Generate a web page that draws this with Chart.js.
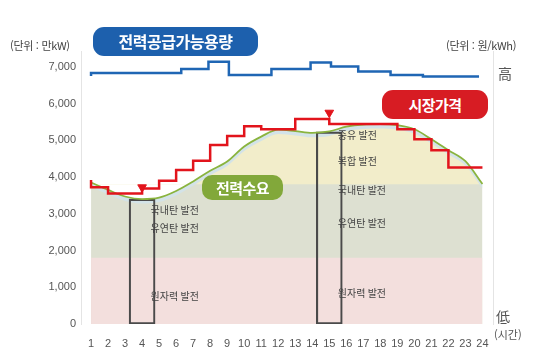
<!DOCTYPE html>
<html lang="ko">
<head>
    <meta charset="UTF-8">
    <title>전력수요와 시장가격</title>
    <script src="https://cdn.jsdelivr.net/npm/chart.js"></script>
    <style>
        body {
            margin: 0;
            background: #fff;
            font-family: 'Noto Sans CJK KR', 'Noto Sans', sans-serif;
        }
        #wrap {
            position: relative;
            width: 540px;
            height: 347px;
        }
        .pill {
            position: absolute;
            color: #fff;
            font-weight: bold;
            text-align: center;
            border-radius: 11px;
            letter-spacing: -0.5px;
        }
        .blue { left: 93px; top: 27px; width: 165px; height: 29px; line-height: 29px; font-size: 16px; background: #1d60ad; }
        .red { left: 382px; top: 90px; width: 106px; height: 29px; line-height: 29px; font-size: 15px; background: #d71c23; }
        .green { left: 202px; top: 175px; width: 81px; height: 25px; line-height: 25px; font-size: 15px; background: #82a83a; border-radius: 10px; }
        .note {
            position: absolute;
            color: #444;
            font-size: 11px;
            white-space: nowrap;
        }
    </style>
</head>
<body>
<div id="wrap">
    <canvas id="chart" width="540" height="347"></canvas>
    <div class="pill blue">전력공급가능용량</div>
    <div class="pill red">시장가격</div>
    <div class="pill green">전력수요</div>
    <div class="note" style="left:10px; top:37px; letter-spacing:-0.3px;">(단위 : 만kW)</div>
    <div class="note" style="left:446px; top:37px; letter-spacing:-0.3px;">(단위 : 원/kWh)</div>
    <div class="note" style="left:498px; top:63px; font-size:14px; color:#555;">高</div>
    <div class="note" style="left:496px; top:306px; font-size:14px; color:#555;">低</div>
    <div class="note" style="left:494px; top:326px; color:#555;">(시간)</div>
</div>

<script>
    // 시간 (1~24시)
    const hours = [1, 2, 3, 4, 5, 6, 7, 8, 9, 10, 11, 12, 13, 14, 15, 16, 17, 18, 19, 20, 21, 22, 23, 24];
    const yTicks = [0, 1000, 2000, 3000, 4000, 5000, 6000, 7000];

    // 전력수요 (만kW)
    const demand = [3850, 3650, 3470, 3400, 3440, 3620, 3880, 4170, 4420, 4830, 5100, 5290,
                    5250, 5200, 5240, 5370, 5430, 5440, 5410, 5300, 5030, 4730, 4430, 3810];

    // 시장가격 (상대 높이, 계단형)
    const price = [3920, 3720, 3550, 3550, 3690, 3900, 4190, 4440, 4870, 5120, 5380, 5300,
                   5300, 5580, 5580, 5440, 5440, 5440, 5440, 5300, 5030, 4730, 4260, 4260];

    // 전력공급가능용량 (계단 바뀌는 시각)
    const capHours = [1, 6.3, 7.9, 9.1, 11.6, 13.9, 15.1, 16.7, 18.6, 20.5, 22.3, 23.8];
    const capacity = [6750, 6830, 6940, 7140, 6780, 6940, 7120, 7010, 6870, 6780, 6735, 6735];

    // 발전원 경계
    const baseHours = [1, 24];
    const nuclearTop = [1800, 1800];   // 원자력
    const coalTop = 3800;              // 국내탄/유연탄 위로는 중유/복합

    // 최소/최대 수요 시각 표시
    const boxHours = [4, 15];
    const boxTop = [3400, 5230];
    const markPrice = [3720, 5750];

    const yMax = 7430;
    const bandGap = 120;

    const xy = (xs, ys) => xs.map((x, i) => ({ x: x, y: ys[i] }));

    const notes = [
        { h: 4.5, v: 3110, t: '국내탄 발전' },
        { h: 4.5, v: 2620, t: '유연탄 발전' },
        { h: 4.5, v: 770, t: '원자력 발전' },
        { h: 15.5, v: 5150, t: '중유 발전' },
        { h: 15.5, v: 4440, t: '복합 발전' },
        { h: 15.5, v: 3650, t: '국내탄 발전' },
        { h: 15.5, v: 2730, t: '유연탄 발전' },
        { h: 15.5, v: 825, t: '원자력 발전' }
    ];

    const notePlugin = {
        id: 'notes',
        afterDatasetsDraw(chart) {
            const ctx = chart.ctx;
            const x = chart.scales.x, y = chart.scales.y;
            ctx.save();
            ctx.font = "10px 'Noto Sans CJK KR', sans-serif";
            ctx.fillStyle = '#444';
            ctx.textAlign = 'left';
            ctx.textBaseline = 'middle';
            notes.forEach(n => ctx.fillText(n.t, x.getPixelForValue(n.h), y.getPixelForValue(n.v)));
            ctx.restore();
        }
    };

    new Chart(document.getElementById('chart'), {
        type: 'line',
        data: {
            datasets: [
                {   // 전력공급가능용량
                    data: xy(capHours, capacity),
                    borderColor: '#1f66b4',
                    borderWidth: 2.5,
                    stepped: 'after',
                    pointRadius: 0,
                    fill: false,
                    order: 4
                },
                {   // 시장가격
                    yAxisID: 'yPrice',
                    data: xy(hours, price),
                    borderColor: '#e2141c',
                    borderWidth: 2.5,
                    stepped: 'after',
                    pointRadius: 0,
                    fill: false,
                    order: 3
                },
                {   // 최소/최대 가격 표시
                    yAxisID: 'yPrice',
                    data: xy(boxHours, markPrice),
                    showLine: false,
                    pointStyle: 'triangle',
                    rotation: 180,
                    pointRadius: 5,
                    hoverRadius: 5,
                    backgroundColor: '#e2141c',
                    borderColor: '#e2141c',
                    order: 2
                },
                {   // 전력수요 선
                    data: xy(hours, demand),
                    borderColor: '#8ab43e',
                    borderWidth: 1.8,
                    cubicInterpolationMode: 'monotone',
                    pointRadius: 0,
                    fill: false,
                    order: 5
                },
                {   // 수요선 아래 하늘색 띠
                    data: xy(hours, demand.map(v => v - bandGap)),
                    borderWidth: 0,
                    cubicInterpolationMode: 'monotone',
                    pointRadius: 0,
                    fill: { target: 3 },
                    backgroundColor: '#d3e3e8',
                    order: 7
                },
                {   // 시각 박스
                    type: 'bar',
                    data: xy(boxHours, boxTop),
                    backgroundColor: 'rgba(0,0,0,0)',
                    borderColor: '#4a4a4a',
                    borderWidth: 1.5,
                    borderSkipped: false,
                    barThickness: 26,
                    order: 6
                },
                {   // 원자력
                    data: xy(baseHours, nuclearTop),
                    borderWidth: 0,
                    pointRadius: 0,
                    fill: 'origin',
                    backgroundColor: '#f3dfdd',
                    order: 8
                },
                {   // 중유/복합
                    data: xy(hours, demand),
                    borderWidth: 0,
                    cubicInterpolationMode: 'monotone',
                    pointRadius: 0,
                    fill: { target: { value: coalTop }, above: '#f2edca', below: 'rgba(0,0,0,0)' },
                    order: 9
                },
                {   // 국내탄/유연탄
                    data: xy(hours, demand),
                    borderWidth: 0,
                    cubicInterpolationMode: 'monotone',
                    pointRadius: 0,
                    fill: 'origin',
                    backgroundColor: '#dde0d1',
                    order: 10
                }
            ]
        },
        options: {
            responsive: false,
            animation: false,
            layout: { autoPadding: false, padding: { top: 51, right: 47, left: 0, bottom: 0 } },
            plugins: {
                legend: { display: false },
                tooltip: { enabled: false }
            },
            scales: {
                x: {
                    type: 'linear',
                    offset: false,
                    min: 0.41,
                    max: 24.62,
                    grid: { display: false, offset: false },
                    border: { display: false },
                    afterBuildTicks: a => { a.ticks = hours.map(v => ({ value: v })); },
                    ticks: { color: '#555', font: { size: 11 }, padding: 5, maxRotation: 0, autoSkip: false },
                    afterFit: s => { s.height = 23; s.paddingLeft = 0; s.paddingRight = 0; }
                },
                y: {
                    min: 0,
                    max: yMax,
                    grid: { display: false, drawTicks: false },
                    border: { color: '#e4e4e4' },
                    afterBuildTicks: a => { a.ticks = yTicks.map(v => ({ value: v })); },
                    ticks: { color: '#555', font: { size: 11 }, padding: 5, callback: v => v.toLocaleString('en-US') },
                    afterFit: s => { s.width = 81; s.paddingTop = 0; s.paddingBottom = 0; }
                },
                yPrice: {
                    position: 'right',
                    min: 0,
                    max: yMax,
                    grid: { display: false, drawTicks: false },
                    border: { color: '#e4e4e4' },
                    ticks: { display: false },
                    afterFit: s => { s.width = 0; }
                }
            }
        },
        plugins: [notePlugin]
    });
</script>
</body>
</html>
